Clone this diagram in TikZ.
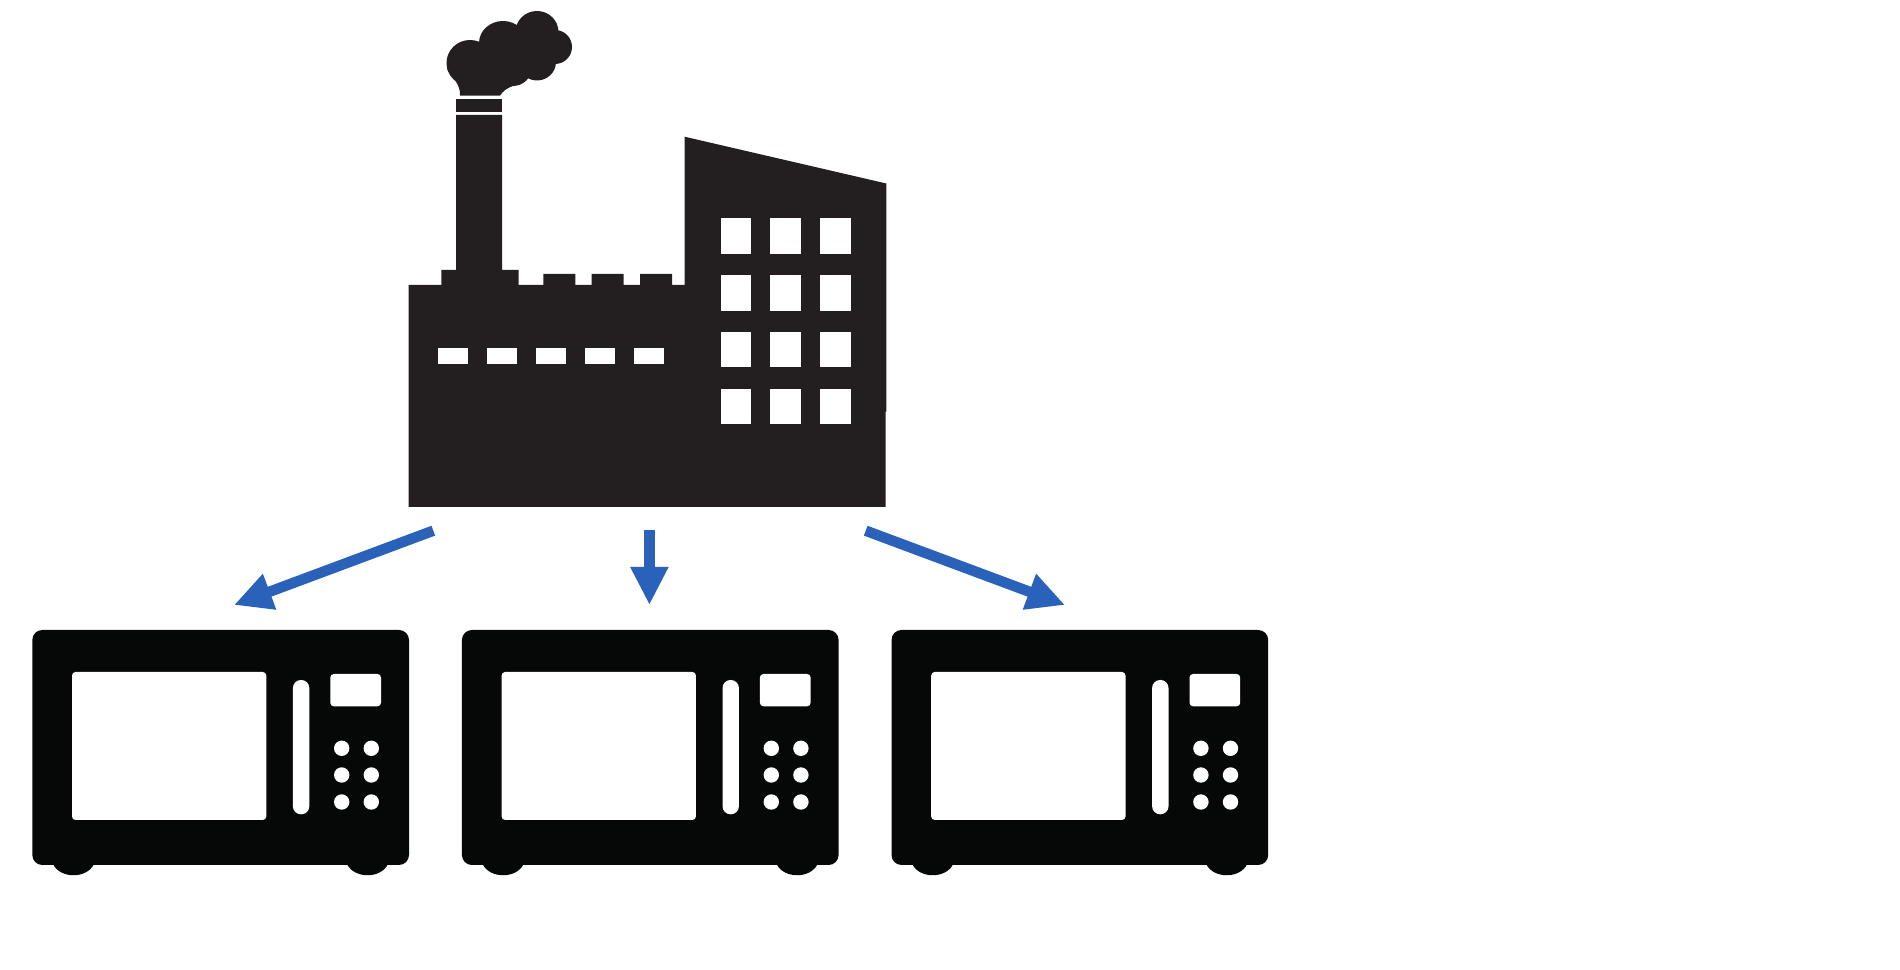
\documentclass[tikz,border=0pt]{standalone}
\usetikzlibrary{arrows.meta}
\definecolor{factoryblack}{HTML}{231F20}
\definecolor{ovenblack}{HTML}{060808}
\definecolor{arrowblue}{HTML}{2B62B9}
\tikzset{
  px/.style={x=0.1mm,y=-0.1mm},
  flow/.style={arrowblue,line width=1.05mm,-{Triangle[length=3.8mm,width=3.55mm]}},
  microwave/.pic={
    \fill[ovenblack,rounded corners=1mm] (32.3,630) rectangle (409,865);
    \fill[ovenblack] (53,864) .. controls (60,879) and (87,879) .. (94,864) -- cycle;
    \fill[ovenblack] (347,864) .. controls (354,879) and (381,879) .. (388,864) -- cycle;
    \fill[white,rounded corners=0.35mm] (72,672) rectangle (266.3,820);
    \fill[white,rounded corners=0.8mm] (292.9,680) rectangle (309.3,814.3);
    \fill[white,rounded corners=0.35mm] (330.3,674) rectangle (381,706.3);
    \foreach \bx in {341.7,371.3}
      \foreach \by in {748.3,775,802}
        \fill[white] (\bx,\by) circle [radius=7.7];
  }
}
\begin{document}
\begin{tikzpicture}[px]
\useasboundingbox (0,0) rectangle (1900,970);
% factory
\fill[factoryblack] (408.7,507) -- (408.7,285) -- (441.3,285) -- (441.3,270) -- (456,270)
  -- (456,115) -- (502,115) -- (502,270) -- (518.7,270) -- (518.7,285) -- (543.3,285)
  -- (543.3,274) -- (575.3,274) -- (575.3,285) -- (591.7,285) -- (591.7,274) -- (623.7,274)
  -- (623.7,285) -- (640,285) -- (640,274) -- (672,274) -- (672,285) -- (684.5,285)
  -- (684.5,136.7) -- (886.3,183.5) -- (886.3,411.7) -- (885.7,411.7) -- (885.7,507) -- cycle;
\fill[factoryblack] (456,98.7) rectangle (502,112.3);
% smoke
\fill[factoryblack] (460,95.7) .. controls (461,85) and (452,77) .. (447,69)
  -- (482,45) -- (545,50) -- (527,76) -- (513,86)
  .. controls (507,88) and (503,91) .. (500,95.7) -- cycle;
\fill[factoryblack] (470,63) ellipse [x radius=23.5,y radius=23];
\fill[factoryblack] (503,43) ellipse [x radius=24,y radius=22];
\fill[factoryblack] (537,32) ellipse [x radius=21.5,y radius=21];
\fill[factoryblack] (555,47) circle [radius=17];
\fill[factoryblack] (537,62) ellipse [x radius=19,y radius=18.5];
\fill[factoryblack] (513,67) circle [radius=19];
% factory windows
\foreach \wx in {720.5,770,820}
  \foreach \wy in {218.5,275.5,332,388.7}
    \fill[white] (\wx,\wy) rectangle ++(30.5,35.5);
\foreach \wx in {437.7,486.7,535.7,584.7,634}
  \fill[white] (\wx,347.8) rectangle ++(30.4,16.7);
% microwaves
\pic (mwa) at (0,0) {microwave};
\pic (mwb) at (429.6,0) {microwave};
\pic (mwc) at (859.2,0) {microwave};
% connector ends
\coordinate (srcl) at (433.3,530.7);
\coordinate (dstl) at (234,605);
\coordinate (srcm) at (649.4,530);
\coordinate (dstm) at (649.4,605);
\coordinate (srcr) at (865.7,530.7);
\coordinate (dstr) at (1065,605);
\draw[flow] (srcl) -- (dstl);
\draw[flow] (srcm) -- (dstm);
\draw[flow] (srcr) -- (dstr);
\end{tikzpicture}
\end{document}
